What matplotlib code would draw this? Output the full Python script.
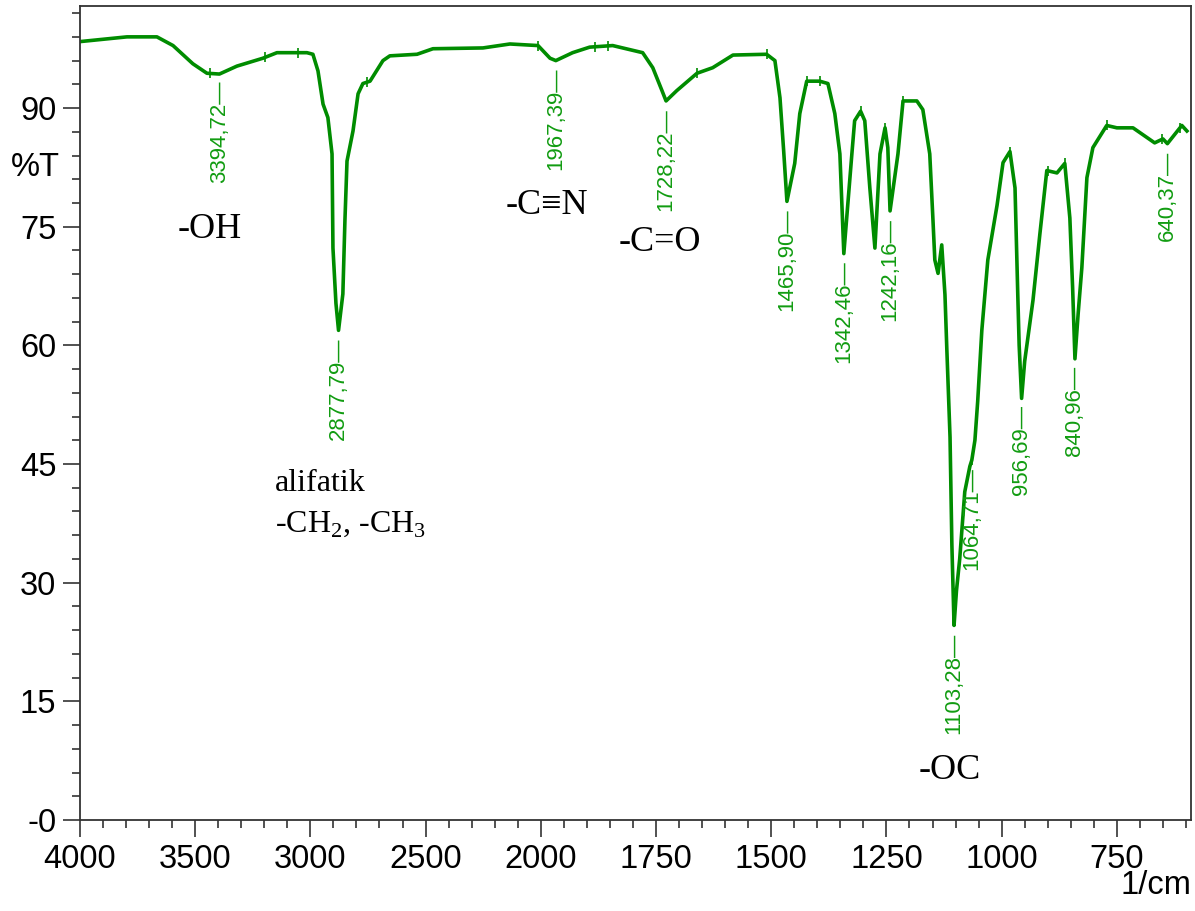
import numpy as np
import matplotlib
matplotlib.use('Agg')
import matplotlib.pyplot as plt
from matplotlib.ticker import FixedLocator, FuncFormatter

# FTIR spectrum (wavenumber 1/cm, %T)
wavenumber = [4000, 3796, 3666, 3596, 3510, 3449, 3394.72, 3319, 3206, 3145,
              3015, 2989, 2967, 2945, 2924, 2906, 2902, 2889, 2877.79, 2859,
              2850, 2841, 2815, 2793, 2772, 2741, 2685, 2655, 2537, 2468,
              2251, 2134, 2012, 1980, 1967.39, 1931, 1894, 1844, 1779, 1757,
              1737, 1728.22, 1705, 1661, 1627, 1583, 1510, 1492, 1481, 1473,
              1465.90, 1449, 1438, 1423, 1395, 1377, 1362, 1351, 1342.46, 1325,
              1319, 1306, 1297, 1286, 1275, 1264, 1253, 1247, 1242.16, 1225,
              1214, 1199, 1184, 1171, 1156, 1149, 1145, 1138, 1130, 1123,
              1119, 1112, 1108, 1103.28, 1098, 1091, 1080, 1069, 1064.71, 1058,
              1052, 1043, 1030, 1010, 997, 982, 971, 965, 962, 956.69,
              950, 932, 917, 902, 880, 863, 852, 846, 840.96, 834,
              826, 815, 802, 772, 750, 715, 668, 650, 640.37, 609, 598]
transmittance = [98.4, 99.0, 99.0, 97.9, 95.6, 94.4, 94.3, 95.3, 96.3, 97.0,
                 97.0, 96.8, 94.7, 90.5, 88.8, 84.2, 72.3, 65.3, 61.9, 66.5,
                 75.8, 83.3, 87.1, 91.8, 93.1, 93.4, 96.0, 96.6, 96.8, 97.5,
                 97.6, 98.1, 97.9, 96.3, 96.0, 97.0, 97.7, 97.9, 97.0, 95.1,
                 92.2, 90.9, 92.2, 94.4, 95.1, 96.7, 96.8, 96.0, 91.3, 84.6,
                 78.2, 83.0, 89.3, 93.4, 93.4, 93.1, 89.3, 84.2, 71.6, 84.2,
                 88.4, 89.6, 88.4, 79.9, 72.3, 84.2, 87.5, 85.0, 77.0, 84.2,
                 90.9, 90.9, 90.9, 89.8, 84.2, 75.8, 70.8, 69.1, 72.7, 66.4,
                 59.6, 48.4, 34.8, 24.6, 29.0, 33.0, 41.5, 44.7, 45.5, 48.0,
                 52.9, 61.9, 70.8, 77.7, 83.1, 84.5, 79.9, 66.4, 60.0, 53.3,
                 58.0, 65.7, 74.1, 82.1, 81.8, 83.0, 76.1, 67.3, 58.3, 64.0,
                 69.8, 81.2, 85.0, 87.8, 87.5, 87.5, 85.6, 86.1, 85.5, 87.8, 87.1]

# picked peaks
peak_wn = [3394.72, 2877.79, 1967.39, 1728.22, 1465.90, 1342.46, 1242.16,
           1103.28, 1064.71, 956.69, 840.96, 640.37]

# small peak-pick marks drawn on the trace
mark_wn = [3436, 3197, 3054, 2754, 2012, 1883, 1855, 1661, 1510, 1423, 1395,
           1306, 1253, 1214, 1128, 1065, 982, 900, 863, 772, 652, 613]

# group annotations: text, wavenumber, %T
groups = [('-OH', 3436, 74.7), ('-C≡N', 1987, 77.7), ('-C=O', 1742, 73.0),
          ('-OC', 1112, 6.3)]

green = '#008c00'
label_green = '#119c11'
sans = ['Liberation Sans', 'DejaVu Sans']
serif = ['Liberation Serif', 'DejaVu Serif']

plt.rcParams['mathtext.fontset'] = 'custom'
plt.rcParams['mathtext.rm'] = 'Liberation Serif'


def fwd(x):
    x = np.asarray(x, dtype=float)
    return np.where(x > 2000, 2000 + (x - 2000) / 2, x)


def inv(u):
    u = np.asarray(u, dtype=float)
    return np.where(u > 2000, 2000 + (u - 2000) * 2, u)


fig = plt.figure(figsize=(11.95, 9.11), dpi=100, facecolor='white')
ax = fig.add_axes([0.0669, 0.0999, 0.9298, 0.8935])
ax.set_xscale('function', functions=(fwd, inv))

ax.plot(wavenumber, transmittance, color=green, linewidth=2.6, solid_joinstyle='round')
ax.plot(mark_wn, np.interp(mark_wn, wavenumber[::-1], transmittance[::-1]),
        linestyle='none', marker='|', markersize=7, markeredgewidth=1.2, color=green)

for wn in peak_wn:
    t = np.interp(wn, wavenumber[::-1], transmittance[::-1])
    txt = f'{wn:.2f}'.replace('.', ',') + '—'
    ax.annotate(txt, xy=(wn, t), xytext=(0, -5), textcoords='offset points',
                rotation=90, ha='center', va='top', color=label_green,
                fontsize=16, family=sans)

for txt, wn, t in groups:
    ax.text(wn, t, txt, ha='center', va='center', fontsize=26, family=serif,
            color='black')
ax.text(3154, 42.6, 'alifatik', ha='left', va='center', fontsize=23, family=serif)
ax.text(3154, 37.4, r'-CH$_\mathrm{2}$, -CH$_\mathrm{3}$', ha='left', va='center',
        fontsize=23, family=serif)

ax.set_xlim(4000, 589)
ax.set_ylim(0, 102.9)

major_x = [4000, 3500, 3000, 2500, 2000, 1750, 1500, 1250, 1000, 750]
minor_x = [v for v in range(3900, 2000, -100) if v % 500] + \
          [v for v in range(1950, 599, -50) if v % 250]
ax.xaxis.set_major_locator(FixedLocator(major_x))
ax.xaxis.set_minor_locator(FixedLocator(minor_x))
ax.xaxis.set_major_formatter(FuncFormatter(lambda v, p: f'{v:.0f}'))
ax.xaxis.set_minor_formatter(FuncFormatter(lambda v, p: ''))

ax.yaxis.set_major_locator(FixedLocator(np.arange(0, 91, 15)))
ax.yaxis.set_minor_locator(FixedLocator(np.arange(0, 103, 3)))
ax.yaxis.set_major_formatter(FuncFormatter(lambda v, p: '-0' if v == 0 else f'{v:.0f}'))

ax.tick_params(which='major', length=12, width=1.2, color='#333333', labelsize=23.5, pad=5)
ax.tick_params(which='minor', length=5.5, width=1.2, color='#333333')
for lab in ax.get_xticklabels() + ax.get_yticklabels():
    lab.set_family(sans)
for s in ax.spines.values():
    s.set_color('#333333')
    s.set_linewidth(1.3)

fig.text(35 / 1195, 1 - 167 / 911, '%T', ha='center', va='center', fontsize=23.5, family=sans)
fig.text(1191 / 1195, 1 - 886 / 911, '1/cm', ha='right', va='center', fontsize=23.5, family=sans)

fig.savefig('out.png', dpi=100, facecolor='white')
